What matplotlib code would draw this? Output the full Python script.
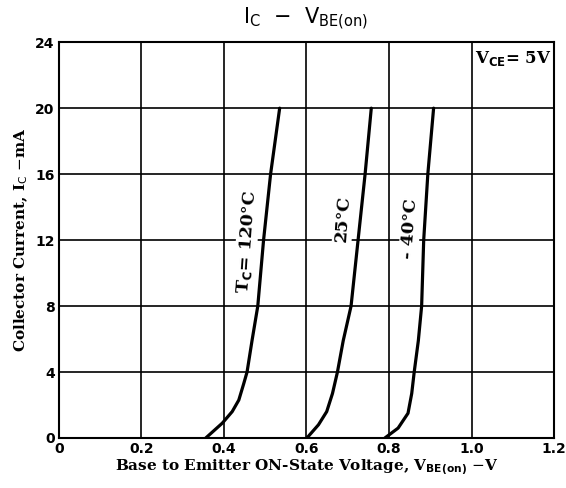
import numpy as np
import matplotlib.pyplot as plt

# I_C (mA) vs V_BE(on) (V)
ic_120 = [0, 0.9, 1.6, 2.3, 3.3, 4, 5.9, 8, 12, 16, 20]
vbe_120 = [0.356, 0.396, 0.420, 0.436, 0.448, 0.456, 0.468, 0.482, 0.496, 0.513, 0.535]
ic_25 = [0, 0.8, 1.6, 2.7, 4, 5.9, 8, 12, 16, 20]
vbe_25 = [0.601, 0.629, 0.649, 0.663, 0.675, 0.689, 0.708, 0.725, 0.742, 0.757]
ic_m40 = [0, 0.6, 1.5, 2.7, 4, 5.9, 8, 12, 16, 20]
vbe_m40 = [0.790, 0.822, 0.846, 0.855, 0.861, 0.871, 0.879, 0.884, 0.894, 0.908]

xticks = [0, 0.2, 0.4, 0.6, 0.8, 1.0, 1.2]
xticklabels = ['0', '0.2', '0.4', '0.6', '0.8', '1.0', '1.2']
yticks = [0, 4, 8, 12, 16, 20, 24]

fig = plt.figure(figsize=(5.66, 4.88), dpi=100)
ax = fig.add_axes([0.104, 0.1025, 0.875, 0.811])

for v, i in [(vbe_120, ic_120), (vbe_25, ic_25), (vbe_m40, ic_m40)]:
    ax.plot(v, i, color='black', lw=2.3, solid_joinstyle='round', solid_capstyle='round')

ax.set_xlim(0, 1.2)
ax.set_ylim(0, 24)
ax.set_xticks(xticks)
ax.set_xticklabels(xticklabels, fontweight='bold', fontsize=10)
ax.set_yticks(yticks)
ax.set_yticklabels([str(t) for t in yticks], fontweight='bold', fontsize=10)
ax.tick_params(length=0, pad=3)
ax.grid(True, color='black', lw=1.2)
for s in ax.spines.values():
    s.set_linewidth(1.5)

serif = {'family': 'DejaVu Serif', 'weight': 'bold'}
ax.set_xlabel(r'Base to Emitter ON-State Voltage, V$_{\mathbf{BE(on)}}$ $-$V', fontdict=serif, fontsize=11, labelpad=1)
ax.set_ylabel(r'Collector Current, I$_{\mathrm{C}}$ $-$mA', fontdict=serif, fontsize=11, labelpad=4)

lbl = {'family': 'DejaVu Serif', 'weight': 'bold'}
box = dict(fc='white', ec='none', pad=1)
ax.text(0.455, 11.9, r'T$_{\mathbf{C}}$= 120°C', rotation=86, fontdict=lbl, fontsize=12.5,
        ha='center', va='center', bbox=box)
ax.text(0.689, 13.3, '25°C', rotation=86, fontdict=lbl, fontsize=12.5,
        ha='center', va='center', bbox=box)
ax.text(0.851, 12.7, '- 40°C', rotation=86, fontdict=lbl, fontsize=12.5,
        ha='center', va='center', bbox=box)
ax.text(1.10, 23.0, r'V$_{\mathbf{CE}}$= 5V', fontdict=lbl, fontsize=12,
        ha='center', va='center', bbox=box)

fig.text(0.54, 0.962, r'I$_{\mathrm{C}}$  $-$  V$_{\mathrm{BE(on)}}$', ha='center', va='center', fontsize=15)

fig.savefig('out.png', dpi=100)
